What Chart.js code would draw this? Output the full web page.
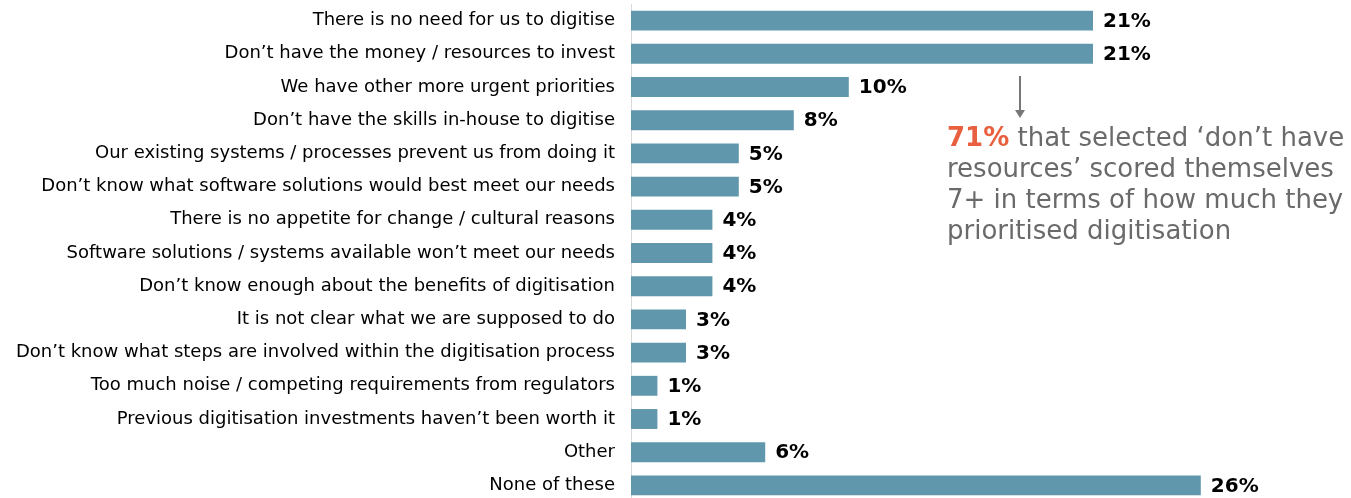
<!DOCTYPE html>
<html>
<head>
<meta charset="utf-8">
<script src="https://cdn.jsdelivr.net/npm/chart.js"></script>
<style>
  html, body { margin: 0; padding: 0; background: #fff; overflow: hidden; }
  #wrap { width: 1351px; height: 498px; overflow: hidden; position: relative; }
  #bargraph { display: block; }
</style>
</head>
<body>
<div id="wrap"><canvas id="bargraph" width="1351" height="502"></canvas></div>
<script>
// reasons for not digitising (% of respondents)
var reasons = [
  "There is no need for us to digitise",
  "Don\u2019t have the money / resources to invest",
  "We have other more urgent priorities",
  "Don\u2019t have the skills in-house to digitise",
  "Our existing systems / processes prevent us from doing it",
  "Don\u2019t know what software solutions would best meet our needs",
  "There is no appetite for change / cultural reasons",
  "Software solutions / systems available won\u2019t meet our needs",
  "Don\u2019t know enough about the benefits of digitisation",
  "It is not clear what we are supposed to do",
  "Don\u2019t know what steps are involved within the digitisation process",
  "Too much noise / competing requirements from regulators",
  "Previous digitisation investments haven\u2019t been worth it",
  "Other",
  "None of these"
];
var share = [21, 21, 9.9, 7.4, 4.9, 4.9, 3.7, 3.7, 3.7, 2.5, 2.5, 1.2, 1.2, 6.1, 25.9];
var shareLabels = ["21%", "21%", "10%", "8%", "5%", "5%", "4%", "4%", "4%", "3%", "3%", "1%", "1%", "6%", "26%"];

var noteHighlight = "71%";
var noteLines = [
  " that selected \u2018don\u2019t have",
  "resources\u2019 scored themselves",
  "7+ in terms of how much they",
  "prioritised digitisation"
];

var valueLabels = {
  id: 'valueLabels',
  afterDatasetsDraw: function(chart) {
    var ctx = chart.ctx;
    var meta = chart.getDatasetMeta(0);
    ctx.save();
    ctx.font = 'bold 20px "DejaVu Sans"';
    ctx.fillStyle = '#000';
    ctx.textBaseline = 'middle';
    ctx.textAlign = 'left';
    meta.data.forEach(function(bar, i) {
      ctx.fillText(shareLabels[i], bar.x + 10, bar.y + 1);
    });
    ctx.restore();
  }
};

var note = {
  id: 'note',
  afterDraw: function(chart) {
    var ctx = chart.ctx;
    ctx.save();
    // arrow
    var ax = 1020, ay0 = 76, ay1 = 118;
    ctx.strokeStyle = '#777';
    ctx.fillStyle = '#777';
    ctx.lineWidth = 2;
    ctx.beginPath();
    ctx.moveTo(ax, ay0);
    ctx.lineTo(ax, ay1 - 6);
    ctx.stroke();
    ctx.beginPath();
    ctx.moveTo(ax - 5, ay1 - 8);
    ctx.lineTo(ax + 5, ay1 - 8);
    ctx.lineTo(ax, ay1);
    ctx.closePath();
    ctx.fill();
    // text
    var x = 947, y = 139, lh = 31;
    ctx.textBaseline = 'middle';
    ctx.textAlign = 'left';
    ctx.font = 'bold 26px "DejaVu Sans"';
    ctx.fillStyle = '#e8603f';
    ctx.fillText(noteHighlight, x, y);
    var w = ctx.measureText(noteHighlight).width;
    ctx.font = '26px "DejaVu Sans"';
    ctx.fillStyle = '#6a6a6a';
    noteLines.forEach(function(line, i) {
      ctx.fillText(line, i === 0 ? x + w : x, y + i * lh);
    });
    ctx.restore();
  }
};

var chartdata = {
  labels: reasons,
  datasets: [{
    data: share,
    backgroundColor: '#6097ac',
    borderWidth: 0,
    barPercentage: 0.6,
    categoryPercentage: 1
  }]
};

var ctx = document.getElementById('bargraph');
var bars = new Chart(ctx, {
  type: 'bar',
  data: chartdata,
  options: {
    indexAxis: 'y',
    responsive: false,
    maintainAspectRatio: false,
    animation: false,
    layout: { padding: { top: 4, bottom: 0, right: 16, left: 0 } },
    plugins: { legend: { display: false }, tooltip: { enabled: false } },
    scales: {
      x: { display: false, min: 0, max: 32 },
      y: {
        afterFit: function(scale) {
          scale.width = 631;
          scale.paddingTop = 0;
          scale.paddingBottom = 0;
        },
        grid: { display: false, drawTicks: false },
        border: { display: true, color: '#d9d9d9', width: 1 },
        ticks: {
          padding: 16,
          color: '#000',
          font: { family: '"DejaVu Sans"', size: 18 }
        }
      }
    }
  },
  plugins: [valueLabels, note]
});
</script>
</body>
</html>
